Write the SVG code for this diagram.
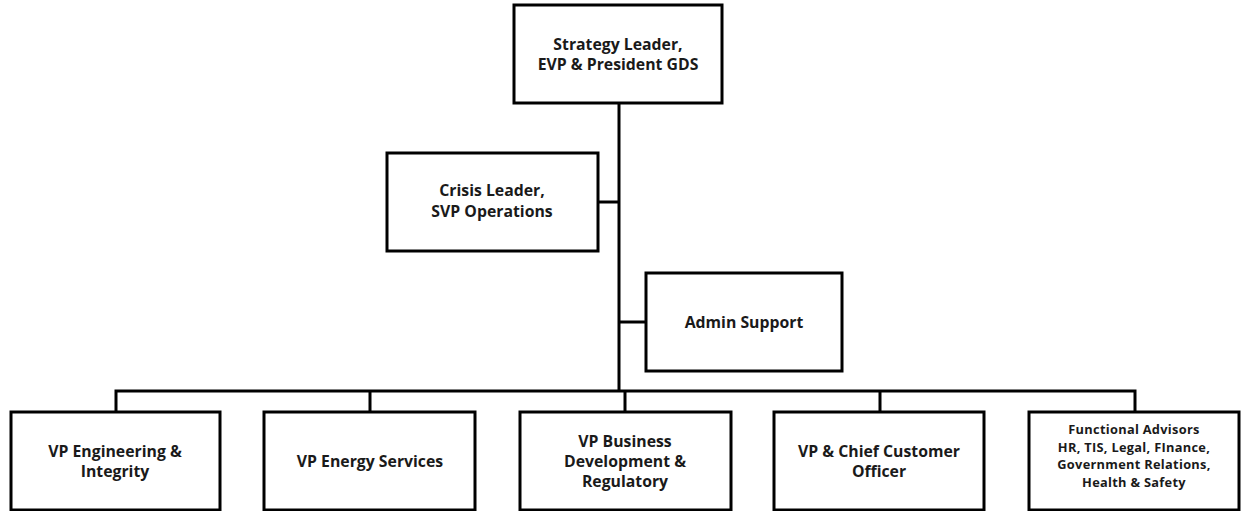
<svg xmlns="http://www.w3.org/2000/svg" width="1245" height="511" viewBox="0 0 1245 511">
<style>
.box{fill:#fff;stroke:#000;stroke-width:3}
.t{font-family:"Open Sans","Noto Sans","DejaVu Sans",sans-serif;font-weight:bold;font-size:15.8px;fill:#1a1a1a;text-anchor:middle}
.s{font-size:12.8px;letter-spacing:0.3px}
.c{fill:none;stroke:#000;stroke-width:3}
</style>
<rect width="1245" height="511" fill="#fff"/>
<g id="connectors">
<path class="c" d="M619,103 V392"/>
<path class="c" d="M598,202 H619"/>
<path class="c" d="M619,322 H646"/>
<path class="c" d="M116,412 V391 H1135 V412"/>
<path class="c" d="M370,391 V412 M625,391 V412 M880,391 V412"/>
</g>
<g id="strategy"><rect class="box" x="514" y="5" width="208" height="98"/>
<text class="t" x="618" y="50">Strategy Leader,</text><text class="t" x="618" y="70">EVP &amp; President GDS</text></g>
<g id="crisis"><rect class="box" x="387" y="153" width="211" height="98"/>
<text class="t" x="492" y="196">Crisis Leader,</text><text class="t" x="492" y="216.5">SVP Operations</text></g>
<g id="admin"><rect class="box" x="646" y="273" width="196" height="98"/>
<text class="t" x="744" y="328">Admin Support</text></g>
<g id="vp-eng"><rect class="box" x="11" y="412" width="209" height="98"/>
<text class="t" x="115" y="457">VP Engineering &amp;</text><text class="t" x="115" y="477">Integrity</text></g>
<g id="vp-energy"><rect class="box" x="264" y="412" width="211" height="98"/>
<text class="t" x="370" y="467">VP Energy Services</text></g>
<g id="vp-bd"><rect class="box" x="520" y="412" width="211" height="98"/>
<text class="t" x="625" y="447">VP Business</text><text class="t" x="625" y="467">Development &amp;</text><text class="t" x="625" y="487">Regulatory</text></g>
<g id="vp-cco"><rect class="box" x="774" y="412" width="210" height="98"/>
<text class="t" x="879" y="457">VP &amp; Chief Customer</text><text class="t" x="879" y="477">Officer</text></g>
<g id="advisors"><rect class="box" x="1029" y="412" width="210" height="98"/>
<text class="t s" x="1134" y="434">Functional Advisors</text><text class="t s" x="1134" y="451.5">HR, TIS, Legal, FInance,</text><text class="t s" x="1134" y="469">Government Relations,</text><text class="t s" x="1134" y="486.5">Health &amp; Safety</text></g>
</svg>
